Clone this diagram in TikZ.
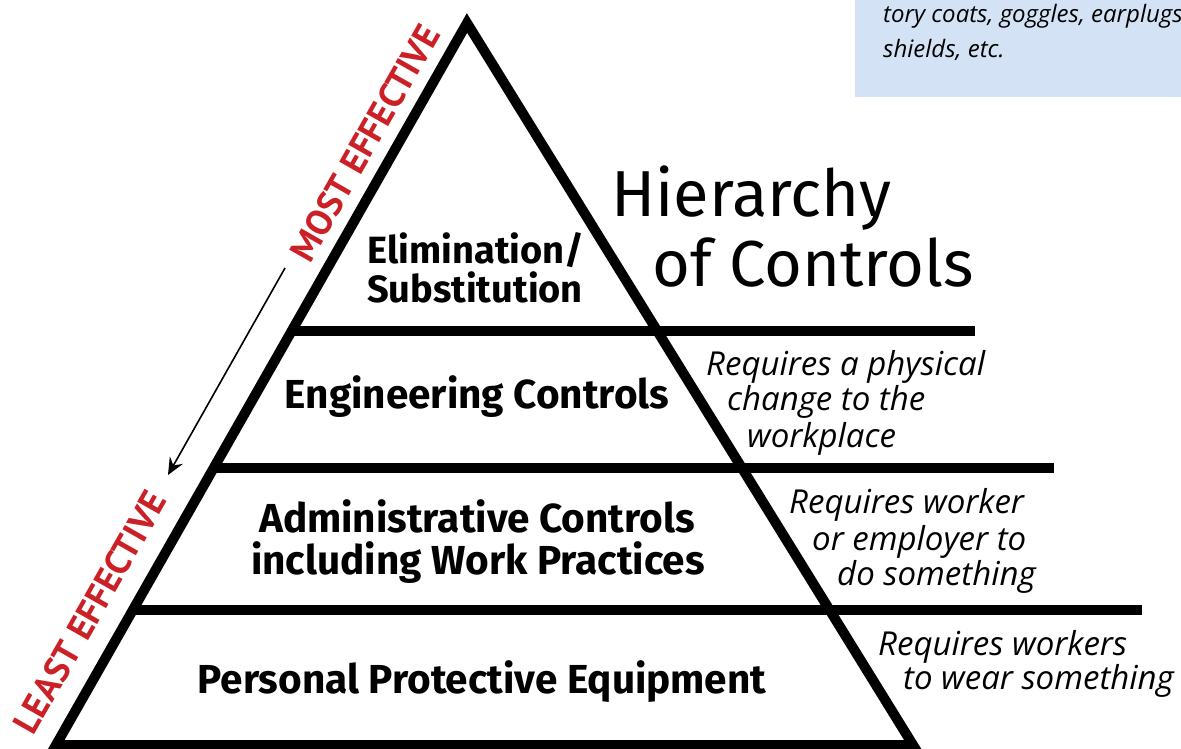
\documentclass[tikz,border=0pt]{standalone}
\usepackage{fontspec}
\setmainfont{Fira Sans}
\newfontfamily\descfont{Open Sans}
\newfontfamily\effont{PT Sans}
\usetikzlibrary{arrows.meta,calc}
\definecolor{effred}{RGB}{204,32,39}
\definecolor{boxblue}{RGB}{211,226,244}
\begin{document}
\begin{tikzpicture}[x=1pt,y=-1pt,
  every node/.style={inner sep=0pt},
  edge/.style={line width=10pt, line join=miter},
  rung/.style={line width=10pt},
  lvl/.style={font=\bfseries\fontsize{40.5}{44}\selectfont, anchor=base},
  toplvl/.style={font=\bfseries\fontsize{38}{42}\selectfont, anchor=base},
  desc/.style={font=\descfont\itshape\fontsize{33}{36}\selectfont, anchor=base west},
  boxdesc/.style={font=\descfont\itshape\fontsize{24}{28}\selectfont, anchor=base west},
  eff/.style={font=\effont\bfseries\fontsize{36}{40}\selectfont, text=effred, rotate=60.35},
  titletext/.style={font=\fontsize{65}{70}\selectfont, anchor=base west},
  arr/.style={line width=1.6pt, -{Stealth[length=17pt,width=15pt,inset=6pt]}}]
\useasboundingbox (0,0) rectangle (1181,748);
% blue box (cut off at top right)
\fill[boxblue] (855,-2) rectangle (1183,97);
\node[boxdesc] (b1) at (883,22) {tory coats, goggles, earplugs};
\node[boxdesc] (b2) at (883,57) {shields, etc.};
% pyramid
\coordinate (apex) at (467,23);
\coordinate (bl) at (56,745);
\coordinate (br) at (913,745);
\draw[edge] (bl) -- (apex) -- (br) -- cycle;
\coordinate (l1) at ($(apex)!0.4266!(bl)$);
\coordinate (l2) at ($(apex)!0.6163!(bl)$);
\coordinate (l3) at ($(apex)!0.8130!(bl)$);
\coordinate (r1) at (975,331);
\coordinate (r2) at (1054,468);
\coordinate (r3) at (1142,610);
\draw[rung] (l1) -- (l1 -| r1);
\draw[rung] (l2) -- (l2 -| r2);
\draw[rung] (l3) -- (l3 -| r3);
% arrow
\coordinate (arrS) at (285,268);
\coordinate (arrE) at (168,475);
\draw[arr] (arrS) -- (arrE);
% effectiveness labels
\node[eff] (most) at (365,143) {MOST EFFECTIVE};
\node[eff] (least) at (90,612) {LEAST EFFECTIVE};
% levels
\node[toplvl] (elim) at (476,263) {Elimination/};
\node[toplvl] (subst) at (475,302) {Substitution};
\node[lvl] (eng) at (477,408) {Engineering Controls};
\node[lvl] (adm1) at (477,532) {Administrative Controls};
\node[lvl] (adm2) at (478,574) {including Work Practices};
\node[lvl] (ppe) at (482,693) {Personal Protective Equipment};
% title
\node[titletext] (hier) at (611,216) {Hierarchy};
\node[titletext] (ofc) at (652,286) {of Controls};
% descriptions
\node[desc] (d1a) at (706,375) {Requires a physical};
\node[desc] (d1b) at (727,410) {change to the};
\node[desc] (d1c) at (747,447) {workplace};
\node[desc] (d2a) at (789,513) {Requires worker};
\node[desc] (d2b) at (812,550) {or employer to};
\node[desc] (d2c) at (837,585) {do something};
\node[desc] (d3a) at (878,655) {Requires workers};
\node[desc] (d3b) at (903,689) {to wear something};
\end{tikzpicture}
\end{document}
